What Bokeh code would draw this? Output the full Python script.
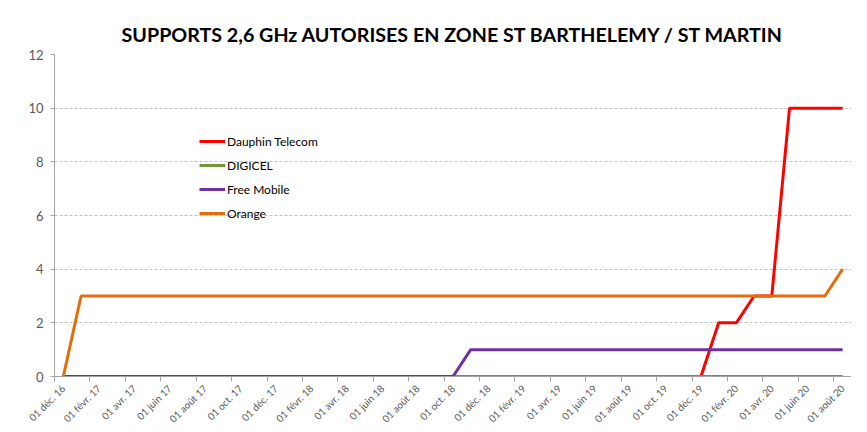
import math
from bokeh.plotting import figure
from bokeh.models import FixedTicker, Legend, LegendItem, Range1d
from bokeh.embed import file_html
from bokeh.resources import INLINE

# Monthly data points, Dec 2016 .. Aug 2020 (45 months, index 0..44)
month_index = list(range(45))

tick_positions = [0, 2, 4, 6, 8, 10, 12, 14, 16, 18, 20, 22, 24, 26, 28, 30, 32, 34, 36, 38, 40, 42, 44]
tick_labels = ["01 déc. 16", "01 févr. 17", "01 avr. 17", "01 juin 17", "01 août 17", "01 oct. 17",
               "01 déc. 17", "01 févr. 18", "01 avr. 18", "01 juin 18", "01 août 18", "01 oct. 18",
               "01 déc. 18", "01 févr. 19", "01 avr. 19", "01 juin 19", "01 août 19", "01 oct. 19",
               "01 déc. 19", "01 févr. 20", "01 avr. 20", "01 juin 20", "01 août 20"]
tick_boundaries = [-0.5, 1.5, 3.5, 5.5, 7.5, 9.5, 11.5, 13.5, 15.5, 17.5, 19.5, 21.5, 23.5, 25.5,
                   27.5, 29.5, 31.5, 33.5, 35.5, 37.5, 39.5, 41.5, 43.5]

dauphin = [0, 0, 0, 0, 0, 0, 0, 0, 0, 0, 0, 0, 0, 0, 0, 0, 0, 0, 0, 0, 0, 0, 0, 0, 0, 0, 0, 0, 0, 0,
           0, 0, 0, 0, 0, 0, 0, 2, 2, 3, 3, 10, 10, 10, 10]
digicel = [0, 0, 0, 0, 0, 0, 0, 0, 0, 0, 0, 0, 0, 0, 0, 0, 0, 0, 0, 0, 0, 0, 0, 0, 0, 0, 0, 0, 0, 0,
           0, 0, 0, 0, 0, 0, 0, 0, 0, 0, 0, 0, 0, 0, 0]
free_mobile = [0, 0, 0, 0, 0, 0, 0, 0, 0, 0, 0, 0, 0, 0, 0, 0, 0, 0, 0, 0, 0, 0, 0, 1, 1, 1, 1, 1, 1, 1,
               1, 1, 1, 1, 1, 1, 1, 1, 1, 1, 1, 1, 1, 1, 1]
orange = [0, 3, 3, 3, 3, 3, 3, 3, 3, 3, 3, 3, 3, 3, 3, 3, 3, 3, 3, 3, 3, 3, 3, 3, 3, 3, 3, 3, 3, 3,
          3, 3, 3, 3, 3, 3, 3, 3, 3, 3, 3, 3, 3, 3, 4]

series_names = ["Dauphin Telecom", "DIGICEL", "Free Mobile", "Orange"]
series_colors = ["#FF0000", "#77933C", "#7030A0", "#E46C0A"]
y_ticks = [0, 2, 4, 6, 8, 10, 12]

FONT = "Lato"

p = figure(width=851, height=432, output_backend="svg", toolbar_location=None,
           x_range=Range1d(-0.5, 44.5), y_range=Range1d(0, 12),
           min_border_left=54, min_border_right=0, min_border_top=54, min_border_bottom=10,
           title="SUPPORTS 2,6 GHz AUTORISES EN ZONE ST BARTHELEMY / ST MARTIN")
p.outline_line_color = None
p.background_fill_color = "white"
p.border_fill_color = "white"

p.title.text_font = FONT
p.title.text_font_size = "19.7px"
p.title.text_font_style = "bold"
p.title.text_color = "#000000"
p.title.align = "center"
p.title.standoff = 18

# grid
p.xgrid.grid_line_color = None
p.ygrid.grid_line_color = "#BFBFBF"
p.ygrid.grid_line_dash = "3 2"
p.ygrid.ticker = FixedTicker(ticks=y_ticks)

# y axis
p.yaxis.ticker = FixedTicker(ticks=y_ticks)
p.yaxis.axis_line_color = "#A6A6A6"
p.yaxis.major_tick_line_color = "#A6A6A6"
p.yaxis.major_tick_out = 4
p.yaxis.major_tick_in = 0
p.yaxis.minor_tick_line_color = None
p.yaxis.major_label_text_font = FONT
p.yaxis.major_label_text_font_size = "13px"
p.yaxis.major_label_text_color = "#595959"
p.yaxis.major_label_standoff = 7

# x axis
p.xaxis.ticker = FixedTicker(ticks=tick_positions, minor_ticks=tick_boundaries)
p.xaxis.major_label_overrides = {t: l for t, l in zip(tick_positions, tick_labels)}
p.xaxis.axis_line_color = "#A6A6A6"
p.xaxis.major_tick_line_color = None
p.xaxis.major_tick_out = 0
p.xaxis.major_tick_in = 0
p.xaxis.minor_tick_line_color = "#A6A6A6"
p.xaxis.minor_tick_out = 5
p.xaxis.minor_tick_in = 0
p.xaxis.major_label_orientation = math.pi / 4
p.xaxis.major_label_text_font = FONT
p.xaxis.major_label_text_font_size = "10px"
p.xaxis.major_label_text_color = "#595959"
p.xaxis.major_label_standoff = 5

renderers = []
for vals, name, col in zip([dauphin, digicel, free_mobile, orange], series_names, series_colors):
    r = p.line(month_index, vals, line_color=col, line_width=3)
    renderers.append(r)

legend = Legend(items=[LegendItem(label=n, renderers=[r]) for n, r in zip(series_names, renderers)],
                location=(145, 151), orientation="vertical",
                padding=0, margin=0, spacing=0, label_height=24, glyph_height=24, glyph_width=26,
                label_standoff=2, border_line_color=None, background_fill_alpha=0,
                label_text_font=FONT, label_text_font_size="12px", label_text_color="#000000")
p.add_layout(legend)

open("out.html", "w").write(file_html(p, INLINE))
